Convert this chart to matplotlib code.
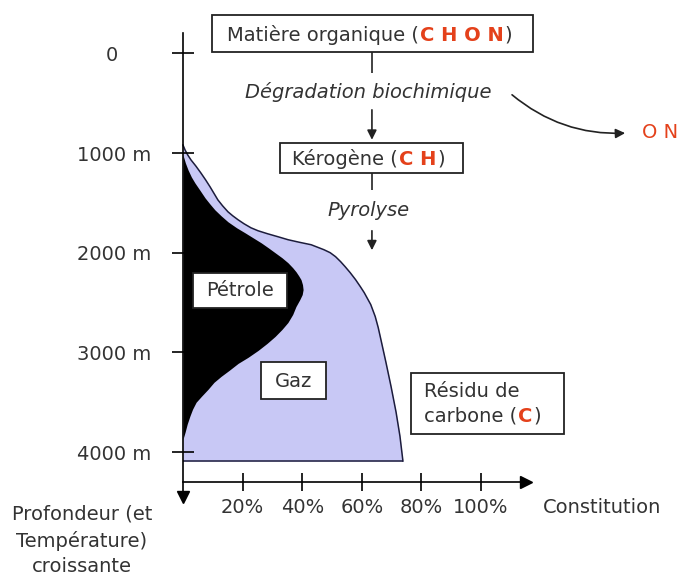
import matplotlib
matplotlib.use('Agg')
import matplotlib.pyplot as plt
from matplotlib.patches import Rectangle
from matplotlib.transforms import ScaledTranslation, offset_copy

# depth axis (m) and constitution axis (%)
depth_ticks = [0, 1000, 2000, 3000, 4000]
depth_labels = ['0', '1000 m', '2000 m', '3000 m', '4000 m']
pct_ticks = [20, 40, 60, 80, 100]
pct_labels = ['20%', '40%', '60%', '80%', '100%']

# outer limit of the gas zone
gas_depth = [920, 970, 1020, 1070, 1130, 1200, 1270, 1340, 1400, 1470, 1530, 1590,
             1630, 1670, 1710, 1750, 1780, 1810, 1840, 1870, 1895, 1920, 1970, 2000,
             2040, 2090, 2140, 2200, 2270, 2340, 2400, 2520, 2640, 2750, 2870, 3100,
             3340, 3600, 3840, 4090]
gas_pct = [0, 0.7, 1.6, 2.7, 4.3, 6.0, 7.6, 9.1, 10.3, 11.7, 13.3, 15.1,
           16.7, 18.5, 20.5, 22.8, 25.2, 28.4, 31.9, 35.3, 39.0, 43.0, 47.3, 49.4,
           51.2, 52.9, 54.4, 56.1, 57.9, 59.5, 60.8, 63.0, 64.5, 65.5, 66.4, 68.1,
           69.8, 71.5, 72.8, 73.8]

# limit of the oil window
oil_depth = [1020, 1100, 1170, 1240, 1300, 1370, 1450, 1510, 1570, 1630, 1690, 1750,
             1800, 1850, 1900, 1950, 2000, 2050, 2100, 2150, 2190, 2230, 2270, 2320,
             2370, 2420, 2470, 2540, 2620, 2700, 2770, 2840, 2910, 2980, 3050, 3110,
             3180, 3240, 3300, 3370, 3440, 3500, 3570, 3640, 3720, 3800, 3870]
oil_pct = [0, 0.8, 1.7, 2.8, 4.0, 5.6, 7.4, 9.0, 10.7, 12.8, 15.1, 18.0,
           20.8, 23.5, 26.2, 28.6, 30.9, 33.2, 35.2, 36.8, 37.9, 38.8, 39.6, 40.1,
           40.3, 40.0, 39.2, 37.9, 36.8, 35.2, 33.2, 30.9, 28.2, 25.2, 21.8, 18.5,
           15.5, 12.8, 10.4, 8.4, 6.2, 4.4, 3.2, 2.3, 1.4, 0.7, 0]

TXT = '#333333'
RED = '#e4411b'
GAS = '#c8c8f5'
FS = 14

fig = plt.figure(figsize=(6.84, 5.76), dpi=100)
ax = fig.add_axes([0, 0, 1, 1])
ax.set_xlim(-61.41, 168.12)
ax.set_ylim(5243, -535)

# zones
ax.fill_betweenx(gas_depth, 0, gas_pct, color=GAS, lw=0, zorder=1)
ax.plot(gas_pct, gas_depth, color='#1c1c3c', lw=1.1, zorder=1.5)
ax.hlines(gas_depth[-1], 0, gas_pct[-1], color='#1c1c3c', lw=1.1, zorder=1.5)
ax.fill_betweenx(oil_depth, 0, oil_pct, color='black', lw=0, zorder=1.6)

# axes
for s in ['top', 'right']:
    ax.spines[s].set_visible(False)
ax.spines['left'].set_position(('data', 0))
ax.spines['left'].set_bounds(-204, 4440)
ax.spines['bottom'].set_position(('data', 4300))
ax.spines['bottom'].set_bounds(0, 114)
for s in ['left', 'bottom']:
    ax.spines[s].set_linewidth(1.2)
ax.plot(0, 4455, marker='v', ms=8, color='black', zorder=3)
ax.plot(115.2, 4300, marker='>', ms=8, color='black', zorder=3)

ax.set_yticks(depth_ticks, depth_labels)
ax.set_xticks(pct_ticks, pct_labels)
ax.tick_params(axis='y', direction='inout', length=15.5, width=1.2, pad=15,
               labelsize=FS, labelcolor=TXT)
ax.tick_params(axis='x', direction='inout', length=13.5, width=1.2, pad=5,
               labelsize=FS, labelcolor=TXT)
zero = ax.get_yticklabels()[0]
zero.set_transform(zero.get_transform() + ScaledTranslation(-0.33, 0, fig.dpi_scale_trans))

ax.text(120.8, 4560, 'Constitution', fontsize=FS, color=TXT, va='center', ha='left')
ax.text(-33.9, 4885, 'Profondeur (et\nTempérature)\ncroissante', fontsize=FS,
        color=TXT, ha='center', va='center', multialignment='center', linespacing=1.45)

# boxes
def box(x0, x1, d0, d1):
    ax.add_patch(Rectangle((x0, d0), x1 - x0, d1 - d0, facecolor='white',
                           edgecolor='#222222', lw=1.3, zorder=3, clip_on=False))

def colored(x, d, parts):
    r = fig.canvas.get_renderer()
    tr = ax.transData
    for s, c, w in parts:
        t = ax.text(x, d, s, color=c, fontweight=w, fontsize=FS, va='baseline',
                    ha='left', transform=tr, zorder=4)
        tr = offset_copy(tr, fig=fig, x=t.get_window_extent(r).width + 1, units='dots')

box(9.7, 117.4, -384, -13)
colored(14.8, -125, [('Matière organique (', TXT, 'normal'),
                     ('C H O N', RED, 'bold'), (')', TXT, 'normal')])

box(32.6, 94.0, 900, 1200)
colored(36.5, 1120, [('Kérogène (', TXT, 'normal'),
                     ('C H', RED, 'bold'), (')', TXT, 'normal')])

box(3.4, 34.9, 2204, 2555)
ax.text(19.1, 2380, 'Pétrole', fontsize=FS, color=TXT, ha='center', va='center', zorder=4)

box(26.2, 48.0, 3096, 3467)
ax.text(37.1, 3290, 'Gaz', fontsize=FS, color=TXT, ha='center', va='center', zorder=4)

box(76.5, 127.9, 3206, 3818)
ax.text(80.9, 3447, 'Résidu de', fontsize=FS, color=TXT, va='baseline', zorder=4)
colored(80.9, 3698, [('carbone (', TXT, 'normal'), ('C', RED, 'bold'),
                     (')', TXT, 'normal')])

# process chain
ax.text(62.1, 390, 'Dégradation biochimique', fontsize=FS, color=TXT,
        style='italic', ha='center', va='center')
ax.text(62.1, 1575, 'Pyrolyse', fontsize=FS, color=TXT,
        style='italic', ha='center', va='center')
ax.vlines(63.4, -13, 198, color='#222222', lw=1.2)
ax.vlines(63.4, 1200, 1371, color='#222222', lw=1.2)
ax.annotate('', xy=(63.4, 895), xytext=(63.4, 539),
            arrowprops=dict(arrowstyle='-|>', color='#222222', lw=1.2, mutation_scale=14))
ax.annotate('', xy=(63.4, 2003), xytext=(63.4, 1752),
            arrowprops=dict(arrowstyle='-|>', color='#222222', lw=1.2, mutation_scale=14))
ax.annotate('', xy=(149.3, 799), xytext=(109.7, 398),
            arrowprops=dict(arrowstyle='-|>', color='#222222', lw=1.2, mutation_scale=14,
                            connectionstyle='arc3,rad=0.2'))
ax.text(154.0, 799, 'O N', fontsize=FS, color=RED, va='center', ha='left')

fig.savefig('out.png', dpi=100)
